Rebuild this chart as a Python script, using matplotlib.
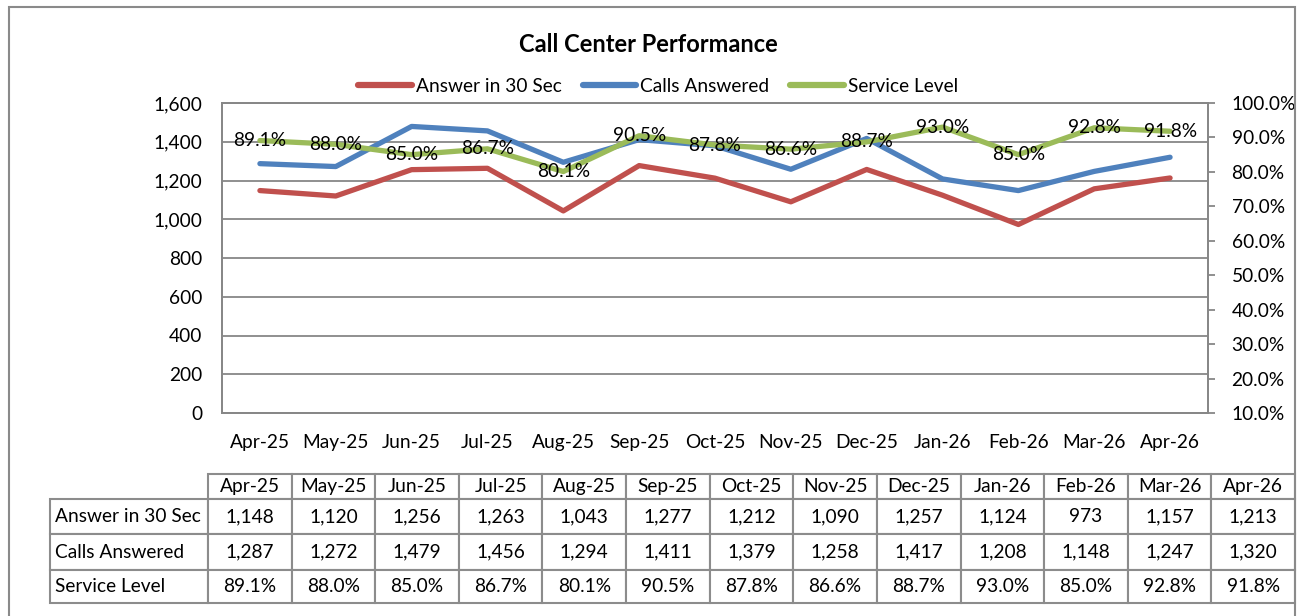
import matplotlib.pyplot as plt
from matplotlib.patches import Rectangle
from matplotlib.ticker import FuncFormatter

plt.rcParams['font.family'] = ['Lato', 'DejaVu Sans']

months = ['Apr-25', 'May-25', 'Jun-25', 'Jul-25', 'Aug-25', 'Sep-25', 'Oct-25',
          'Nov-25', 'Dec-25', 'Jan-26', 'Feb-26', 'Mar-26', 'Apr-26']
answer_30 = [1148, 1120, 1256, 1263, 1043, 1277, 1212, 1090, 1257, 1124, 973, 1157, 1213]
calls_answered = [1287, 1272, 1479, 1456, 1294, 1411, 1379, 1258, 1417, 1208, 1148, 1247, 1320]
service_level = [89.1, 88.0, 85.0, 86.7, 80.1, 90.5, 87.8, 86.6, 88.7, 93.0, 85.0, 92.8, 91.8]

RED = '#C0504D'
BLUE = '#4F81BD'
GREEN = '#9BBB59'
GRID = '#878787'
FS = 13.8

W, H = 1297, 616
fig = plt.figure(figsize=(W / 100, H / 100), dpi=100)

# outer chart border (bottom edge runs off the picture)
fig.add_artist(Rectangle((9 / W, -0.05), (1295 - 9) / W, 1.05 - 7 / H,
                         transform=fig.transFigure, fill=False,
                         edgecolor='#8a8a8a', lw=1.5))

ax = fig.add_axes([222 / W, (H - 413) / H, (1208 - 222) / W, (413 - 103) / H])
x = list(range(len(months)))
ax.plot(x, answer_30, color=RED, lw=3.8, solid_capstyle='round', solid_joinstyle='round',
        label='Answer in 30 Sec')
ax.plot(x, calls_answered, color=BLUE, lw=3.8, solid_capstyle='round', solid_joinstyle='round',
        label='Calls Answered')
ax.set_xlim(-0.5, len(months) - 0.5)
ax.set_ylim(0, 1600)
ax.set_yticks(range(0, 1601, 200))
ax.yaxis.set_major_formatter(FuncFormatter(lambda v, p: f'{int(v):,}'))
ax.set_xticks(x)
ax.set_xticklabels(months)
ax.grid(axis='y', color=GRID, lw=1.3)
ax.set_axisbelow(True)
ax.tick_params(axis='x', length=0, pad=15, labelsize=FS)
ax.tick_params(axis='y', length=0, pad=14, labelsize=FS)
for s in ax.spines.values():
    s.set_color(GRID)
    s.set_linewidth(1.3)

ax2 = ax.twinx()
ax2.plot(x, service_level, color=GREEN, lw=3.8, solid_capstyle='round', solid_joinstyle='round',
         label='Service Level')
for i, v in enumerate(service_level):
    ax2.text(i, v, f'{v:.1f}%', ha='center', va='center', fontsize=FS, clip_on=False)
ax2.set_ylim(10, 100)
ax2.set_yticks(range(10, 101, 10))
ax2.yaxis.set_major_formatter(FuncFormatter(lambda v, p: f'{v:.1f}%'))
ax2.tick_params(axis='y', length=5, width=1.3, color=GRID, pad=12, labelsize=FS)
for s in ax2.spines.values():
    s.set_color(GRID)
    s.set_linewidth(1.3)

fig.text(0.5, 1 - 44 / H, 'Call Center Performance', ha='center', va='center',
         fontsize=17, fontweight='bold')

h1, l1 = ax.get_legend_handles_labels()
h2, l2 = ax2.get_legend_handles_labels()
leg = fig.legend(h1 + h2, l1 + l2, loc='center', bbox_to_anchor=(658 / W, 1 - 86 / H),
                 ncol=3, frameon=False, fontsize=FS, handlelength=2.8, handletextpad=0.2,
                 columnspacing=1.1)
for ln in leg.get_lines():
    ln.set_linewidth(4.5)

# data table under the chart
tax = fig.add_axes([50 / W, (H - 603) / H, (1295 - 50) / W, (603 - 474) / H])
tax.axis('off')
rows = [['Answer in 30 Sec'] + [f'{v:,}' for v in answer_30],
        ['Calls Answered'] + [f'{v:,}' for v in calls_answered],
        ['Service Level'] + [f'{v:.1f}%' for v in service_level]]
cells = [[''] + months] + rows
col_w = [158] + [1087 / 13] * 13
tbl = tax.table(cellText=cells, colWidths=col_w, cellLoc='center', bbox=[0, 0, 1, 1])
tbl.auto_set_font_size(False)
tbl.set_fontsize(FS)
row_h = [25, 35, 36, 33]
for (r, c), cell in tbl.get_celld().items():
    cell.set_height(row_h[r])
    cell.set_edgecolor('#8c8c8c')
    cell.set_linewidth(1.5)
    if c == 0:
        cell.PAD = 0.03
        cell.get_text().set_ha('left')
        cell._loc = 'left'
    if r == 0 and c == 0:
        cell.visible_edges = ''

fig.savefig('out.png', dpi=100)
